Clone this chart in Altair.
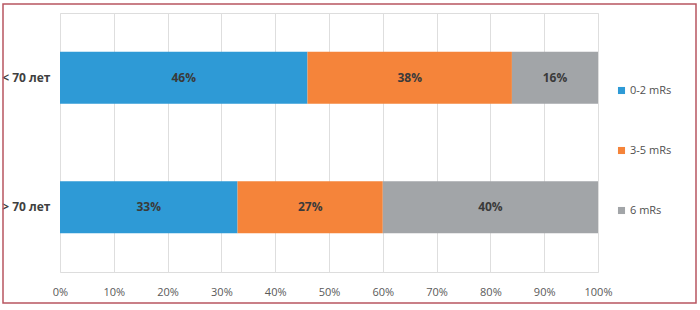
import altair as alt
import pandas as pd

groups = ["< 70 лет", "> 70 лет"]
categories = ["0-2 mRs", "3-5 mRs", "6 mRs"]
values_lt70 = [46, 38, 16]
values_gt70 = [33, 27, 40]
colors = ["#2e9ad6", "#f5843a", "#a2a5a8"]
x_ticks = [0, 10, 20, 30, 40, 50, 60, 70, 80, 90, 100]

rows = []
for g, vals in zip(groups, [values_lt70, values_gt70]):
    for i, (c, v) in enumerate(zip(categories, vals)):
        rows.append({"group": g, "cat": c, "order": i, "value": v})
df = pd.DataFrame(rows)

FONT = "Open Sans"

base = alt.Chart(df).transform_stack(
    stack="value", groupby=["group"], as_=["x0", "x1"],
    sort=[alt.SortField("order", order="ascending")]
).transform_calculate(
    mid="(datum.x0 + datum.x1) / 2",
    label="datum.value + '%'"
)

yenc = alt.Y("group:N", sort=groups, title=None,
             scale=alt.Scale(paddingInner=0, paddingOuter=0),
             axis=alt.Axis(labelFont=FONT, labelFontSize=12, labelFontWeight="bold",
                           labelColor="#404040", ticks=False, domain=False,
                           labelPadding=10, grid=False))

bars = base.mark_bar(size=52).encode(
    x=alt.X("x0:Q", scale=alt.Scale(domain=[0, 100]), title=None,
            axis=alt.Axis(values=x_ticks, labelExpr="datum.value + '%'",
                          labelFont=FONT, labelFontSize=11, labelColor="#595959",
                          labelFlush=False,
                          grid=True, gridColor="#dedede", gridWidth=1,
                          ticks=False, domain=False, labelPadding=14)),
    x2="x1:Q",
    y=yenc,
    color=alt.Color("cat:N", sort=categories, title=None,
                    scale=alt.Scale(domain=categories, range=colors),
                    legend=alt.Legend(orient="none", legendX=556, legendY=72,
                                      symbolType="square", symbolSize=50,
                                      symbolStrokeWidth=0, labelFont=FONT,
                                      labelFontSize=11, labelColor="#505050",
                                      rowPadding=48, labelOffset=3)),
)

text = base.mark_text(font=FONT, fontSize=12, fontWeight="bold", color="#3a3a3a").encode(
    x=alt.X("mid:Q"),
    y=alt.Y("group:N", sort=groups),
    text="label:N",
)

frame = alt.Chart(pd.DataFrame({"a": [0]})).mark_rect(
    fill=None, stroke="#b85560", strokeWidth=1.5
).encode(
    x=alt.value(-57), x2=alt.value(636), y=alt.value(-9), y2=alt.value(290)
)

chart = alt.layer(frame, bars, text).properties(
    width=538, height=259,
    autosize=alt.AutoSizeParams(type="none"),
    padding={"left": 60, "top": 13, "right": 102, "bottom": 38},
).configure_view(stroke=None).configure(background="white")

chart.save("out.html", embed_options={"renderer": "svg", "actions": False})
